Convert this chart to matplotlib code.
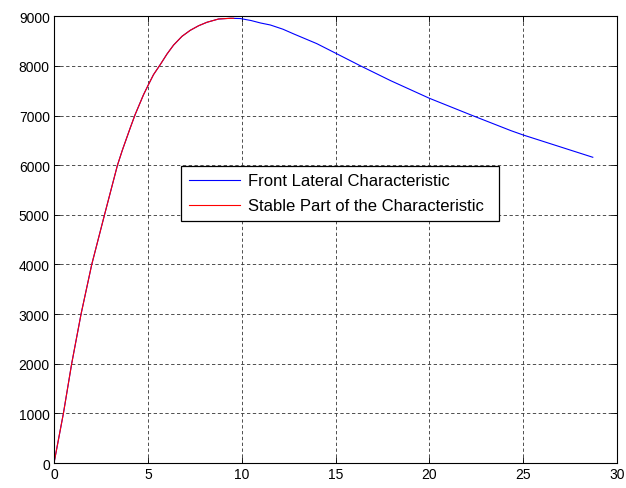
import matplotlib
matplotlib.use("Agg")
import matplotlib.pyplot as plt

plt.rcParams['font.family'] = ['Liberation Sans', 'DejaVu Sans']

# lateral characteristic (slip, force)
slip = [0, 0.25, 0.5, 0.94, 1.44, 2.01, 2.69, 3.38, 3.65, 4.06, 4.32, 4.77,
        5.03, 5.30, 5.66, 6.02, 6.37, 6.82, 7.26, 7.71, 8.15, 8.77, 9.4,
        9.93, 10.5, 11.0, 11.53, 12.2, 12.78, 14.0, 15.09, 16.34, 17.94, 20.0,
        22.3, 24.35, 25.0, 28.71]
force = [0, 500, 1000, 2000, 3000, 4000, 5000, 6000, 6313, 6750, 7018, 7421,
         7622, 7824, 8026, 8240, 8420, 8597, 8718, 8811, 8880, 8946, 8960,
         8955, 8915, 8866, 8825, 8740, 8644, 8450, 8241, 8000, 7703, 7349,
         7000, 6696, 6609, 6160]

# stable part: rising branch up to the peak
stable_slip = [0, 0.25, 0.5, 0.94, 1.44, 2.01, 2.69, 3.38, 3.65, 4.06, 4.32,
               4.77, 5.03, 5.30, 5.66, 6.02, 6.37, 6.82, 7.26, 7.71, 8.15,
               8.77, 9.4, 9.57]
stable_force = [0, 500, 1000, 2000, 3000, 4000, 5000, 6000, 6313, 6750, 7018,
                7421, 7622, 7824, 8026, 8240, 8420, 8597, 8718, 8811, 8880,
                8946, 8960, 8960]

xticks = [0, 5, 10, 15, 20, 25, 30]
yticks = [0, 1000, 2000, 3000, 4000, 5000, 6000, 7000, 8000, 9000]

fig = plt.figure(figsize=(6.26, 4.89), dpi=100)
ax = fig.add_axes([0.0863, 0.0511, 0.8993, 0.9135])

ax.plot(slip, force, color='#0000ff', lw=0.8, label='Front Lateral Characteristic')
ax.plot(stable_slip, stable_force, color='#ff0000', lw=0.8,
        label='Stable Part of the Characteristic')

ax.set_xlim(0, 30)
ax.set_ylim(0, 9000)
ax.set_xticks(xticks)
ax.set_yticks(yticks)
ax.grid(True, color='0.2', linestyle=(0, (4, 3)), linewidth=0.6)
ax.tick_params(direction='in', top=True, right=True, length=4, width=0.6,
               labelsize=10, pad=3)
for s in ax.spines.values():
    s.set_linewidth(0.8)

leg = ax.legend(loc='upper left', bbox_to_anchor=(0.226, 0.542, 0.564, 0.123),
                mode='expand', borderaxespad=0,
                fancybox=False, edgecolor='black', framealpha=1, fontsize=12,
                handlelength=3.1, handletextpad=0.45, borderpad=0.45,
                labelspacing=0.6)
leg.get_frame().set_linewidth(0.9)

fig.savefig('out.png', dpi=100)
